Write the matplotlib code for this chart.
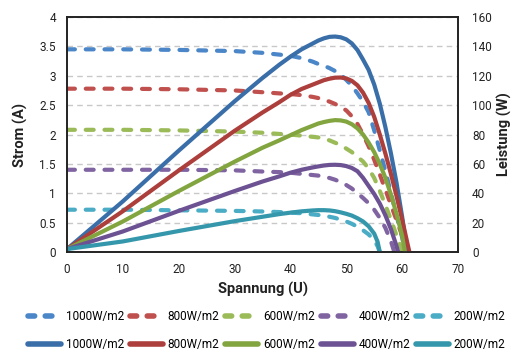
import matplotlib
matplotlib.use("Agg")
import matplotlib.pyplot as plt
from matplotlib.lines import Line2D

plt.rcParams['font.family'] = ['Roboto', 'DejaVu Sans']

labels = ["1000W/m2", "800W/m2", "600W/m2", "400W/m2", "200W/m2"]
col_dash = ["#4a86c8", "#c0504d", "#9bbb59", "#8064a2", "#4bacc6"]
col_solid = ["#3a6ea8", "#ac3e3b", "#82a540", "#6c5292", "#3597ab"]

# 1000 W/m2 -- Strom (A) und Leistung (W) ueber Spannung (V)
vi_1000 = [0, 10, 20, 30, 35, 38, 40, 42, 44, 45, 46, 47, 48, 49, 50, 51, 52, 53, 54, 55, 56, 57, 58, 59, 60, 60.6]
i_1000 = [3.45, 3.45, 3.44, 3.42, 3.39, 3.36, 3.34, 3.3, 3.24, 3.2, 3.17, 3.13, 3.08, 3.02, 2.93, 2.83, 2.7,
          2.56, 2.38, 2.07, 1.73, 1.38, 1.0, 0.62, 0.25, 0]
vp_1000 = [0, 10, 20, 30, 35, 38, 40, 42, 44, 45, 46, 47, 48, 49, 50, 51, 52, 53, 54, 55, 56, 57, 58, 59, 60, 60.9]
p_1000 = [2, 34.5, 69, 102.6, 118.5, 127.5, 133, 138, 142, 144, 145.5, 146.5, 146.7, 146.2, 144.8, 142, 137.5,
          131, 124, 114, 101, 85, 67, 47, 24, 0]

# 800 W/m2
vi_800 = [0, 10, 20, 30, 35, 38, 40, 42, 44, 45, 46, 47, 48, 49, 50, 51, 52, 53, 54, 55, 56, 57, 58, 59, 60, 61, 61.2]
i_800 = [2.78, 2.78, 2.77, 2.75, 2.72, 2.7, 2.69, 2.67, 2.64, 2.62, 2.59, 2.56, 2.52, 2.47, 2.41, 2.31, 2.18,
         2.0, 1.8, 1.57, 1.32, 1.06, 0.8, 0.54, 0.28, 0.03, 0]
vp_800 = [0, 10, 20, 30, 35, 38, 40, 42, 44, 45, 46, 47, 48, 49, 50, 51, 52, 53, 54, 55, 56, 57, 58, 59, 60, 61, 61.3]
p_800 = [2, 27.8, 55.5, 82.5, 95, 102, 107, 111, 114, 115.5, 117, 118, 118.7, 118.8, 118.2, 116.5, 113.5,
         108.5, 101.5, 92, 80, 67, 53, 38, 22, 5, 0]

# 600 W/m2
vi_600 = [0, 10, 20, 30, 35, 38, 40, 42, 44, 45, 46, 47, 48, 49, 50, 51, 52, 53, 54, 55, 56, 57, 58, 59, 60.1]
i_600 = [2.08, 2.08, 2.07, 2.05, 2.03, 2.01, 2.0, 1.98, 1.96, 1.95, 1.93, 1.9, 1.86, 1.82, 1.76, 1.7, 1.62,
         1.54, 1.42, 1.26, 1.04, 0.8, 0.55, 0.28, 0]
vp_600 = [0, 10, 20, 30, 35, 38, 40, 42, 44, 45, 46, 47, 48, 49, 50, 51, 52, 53, 54, 55, 56, 57, 58, 59, 60, 60.5]
p_600 = [2, 20.8, 41.5, 61.5, 71, 76, 79.5, 83, 86, 87.5, 88.5, 89.3, 89.8, 89.6, 88.8, 87, 84.2, 80, 74.5,
         68, 60, 50.5, 39, 26, 11, 0]

# 400 W/m2
vi_400 = [0, 10, 20, 30, 35, 38, 40, 42, 44, 45, 46, 47, 48, 49, 50, 51, 52, 53, 54, 55, 56, 57, 58, 58.6]
i_400 = [1.4, 1.4, 1.4, 1.39, 1.37, 1.36, 1.35, 1.33, 1.31, 1.3, 1.28, 1.26, 1.23, 1.19, 1.14, 1.08, 1.0,
         0.92, 0.83, 0.72, 0.58, 0.41, 0.18, 0]
vp_400 = [0, 10, 20, 30, 35, 38, 40, 42, 44, 45, 46, 47, 48, 49, 50, 51, 52, 53, 54, 55, 56, 57, 58, 59, 59.3]
p_400 = [2, 14, 28, 41.5, 48, 51.5, 54, 56, 57.6, 58.3, 58.9, 59.3, 59.4, 59.2, 58.5, 57.2, 55, 50.5, 45,
         39.5, 33, 25, 15.5, 4, 0]

# 200 W/m2
vi_200 = [0, 10, 20, 30, 35, 38, 40, 42, 44, 45, 46, 47, 48, 49, 50, 51, 52, 53, 54, 55, 55.6, 56]
i_200 = [0.72, 0.72, 0.71, 0.70, 0.69, 0.68, 0.67, 0.66, 0.64, 0.63, 0.62, 0.6, 0.58, 0.55, 0.52, 0.48,
         0.43, 0.37, 0.3, 0.2, 0.1, 0]
vp_200 = [0, 10, 20, 30, 35, 38, 40, 42, 44, 45, 46, 47, 48, 49, 50, 51, 52, 53, 54, 55, 55.6, 56]
p_200 = [2, 7.2, 14.3, 21, 24, 25.8, 26.8, 27.7, 28.3, 28.5, 28.5, 28.3, 27.8, 27, 26, 24.8, 23, 20.8,
         17.5, 12.5, 7, 0]

vi_all = [vi_1000, vi_800, vi_600, vi_400, vi_200]
i_all = [i_1000, i_800, i_600, i_400, i_200]
vp_all = [vp_1000, vp_800, vp_600, vp_400, vp_200]
p_all = [p_1000, p_800, p_600, p_400, p_200]

fig = plt.figure(figsize=(5.13, 3.56), dpi=100)
ax = fig.add_axes([0.1306, 0.2921, 0.7622, 0.6601])
ax2 = ax.twinx()

for v, i, c in zip(vi_all, i_all, col_dash):
    ax.plot(v, i, color=c, lw=3, dashes=(1.9, 2.6), dash_capstyle='round', solid_joinstyle='round')
for v, p, c in zip(vp_all, p_all, col_solid):
    ax2.plot(v, p, color=c, lw=3, solid_capstyle='round', solid_joinstyle='round')

ax.set_xlim(0, 70)
ax.set_ylim(0, 4)
ax2.set_ylim(0, 160)
ax.set_xticks(range(0, 71, 10))
ax.set_yticks([0, 0.5, 1, 1.5, 2, 2.5, 3, 3.5, 4])
ax.set_yticklabels(["0", "0.5", "1", "1.5", "2", "2.5", "3", "3.5", "4"])
ax2.set_yticks(range(0, 161, 20))
ax.yaxis.grid(True, color="#c8c8c8", ls=(0, (4, 3)), lw=1)
ax.set_axisbelow(True)

for a in (ax, ax2):
    a.tick_params(length=0, labelsize=8.5, colors="#222222", pad=8)
    for s in a.spines.values():
        s.set_color("#222222")
        s.set_linewidth(1.2)
ax2.tick_params(pad=10)

ax.set_xlabel("Spannung (U)", fontsize=10.5, fontweight="bold", color="#222222", labelpad=4)
ax.set_ylabel("Strom (A)", fontsize=10.5, fontweight="bold", color="#222222", labelpad=8)
ax2.set_ylabel("Leistung (W)", fontsize=10.5, fontweight="bold", color="#222222",
               rotation=90, labelpad=4)

handles = []
names = []
for lab, cd, cs in zip(labels, col_dash, col_solid):
    handles.append(Line2D([], [], color=cd, lw=4, dashes=(1.2, 1.9), dash_capstyle='round'))
    names.append(lab)
    handles.append(Line2D([], [], color=cs, lw=4, solid_capstyle='round'))
    names.append(lab)
fig.legend(handles, names, ncol=5, loc="lower center", bbox_to_anchor=(0.52, -0.015),
           frameon=False, fontsize=8.5, handlelength=2.8, handletextpad=0.4,
           columnspacing=0.5, labelspacing=1.25)

fig.savefig("out.png", dpi=100)
